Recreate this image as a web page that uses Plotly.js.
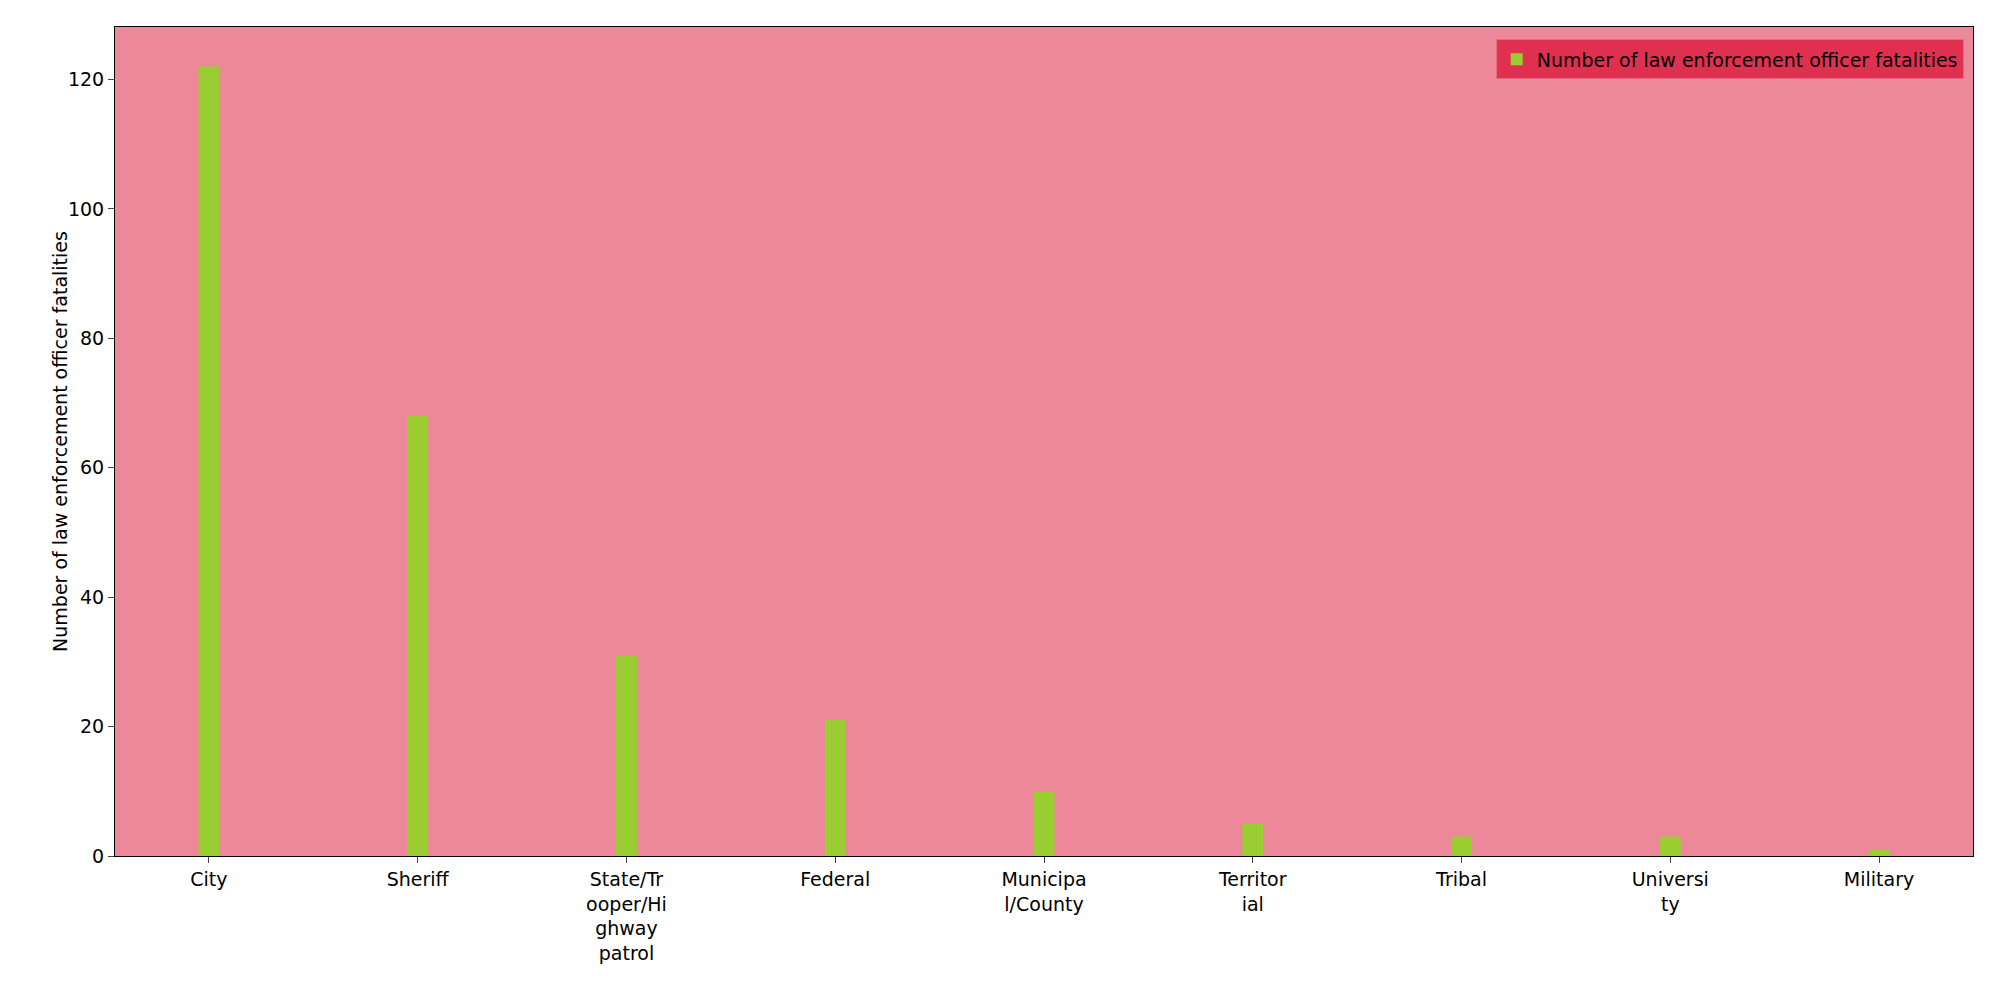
<!DOCTYPE html>
<html>
<head>
<script src="https://cdn.plot.ly/plotly-3.0.1.min.js"></script>
<style>body{margin:0;background:#fff}#chart{width:2000px;height:1000px}</style>
</head>
<body>
<div id="chart"></div>
<script>
var categories = ['City', 'Sheriff', 'State/Tr<br>ooper/Hi<br>ghway<br>patrol', 'Federal', 'Municipa<br>l/County', 'Territor<br>ial', 'Tribal', 'Universi<br>ty', 'Military'];
var fatalities = [122, 68, 31, 21, 10, 5, 3, 3, 1];
var seriesName = 'Number of law enforcement officer fatalities';

var trace = {
    x: categories,
    y: fatalities,
    type: 'bar',
    name: seriesName,
    width: 0.1,
    marker: {color: '#9ACD32'}
};
var layout = {
    width: 2000,
    height: 1000,
    margin: {l: 115, r: 27, t: 27, b: 144},
    paper_bgcolor: '#ffffff',
    plot_bgcolor: '#EC8899',
    font: {family: 'DejaVu Sans', size: 19, color: '#000'},
    showlegend: true,
    legend: {
        x: 0.995, y: 0.985, xanchor: 'right', yanchor: 'top',
        bgcolor: '#E0304F', bordercolor: '#E86A80', borderwidth: 1,
        font: {size: 19}
    },
    xaxis: {
        showline: true, linecolor: '#000', mirror: true,
        ticks: 'outside', ticklen: 6, showgrid: false,
        range: [-0.45, 8.45]
    },
    yaxis: {
        title: {text: seriesName, font: {size: 19}},
        showline: true, linecolor: '#000', mirror: true,
        ticks: 'outside', ticklen: 6, showgrid: false, zeroline: false,
        range: [0, 128.1], dtick: 20
    }
};
Plotly.newPlot('chart', [trace], layout, {displayModeBar: false});
</script>
</body>
</html>
